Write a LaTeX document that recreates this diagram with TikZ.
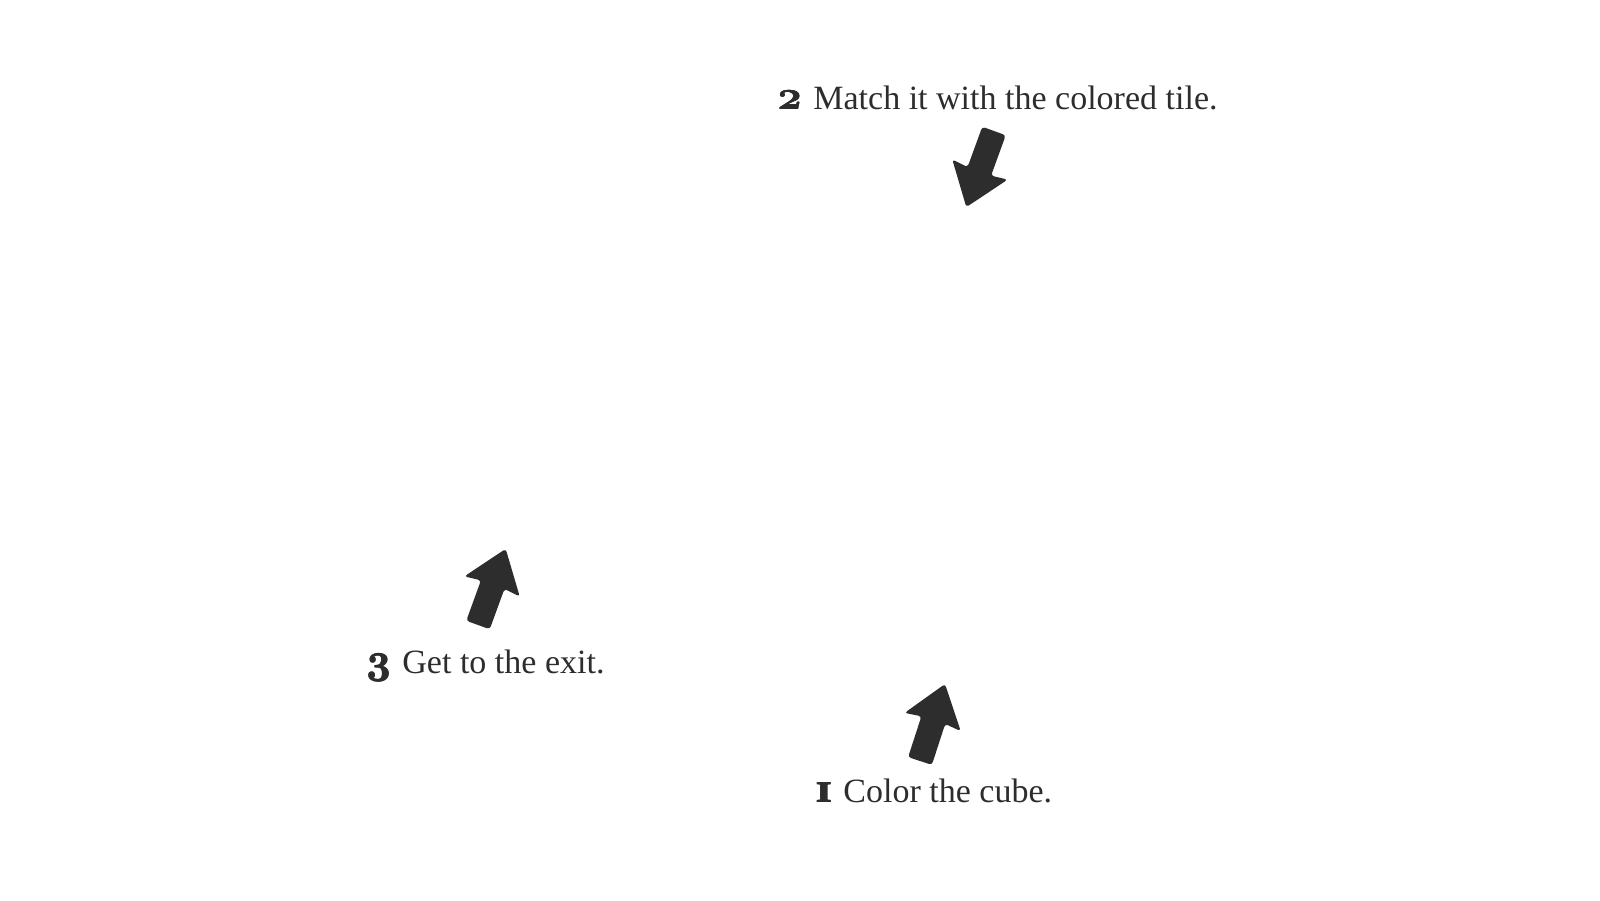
\documentclass[tikz,border=0pt]{standalone}
\usepackage{fontspec}
\setmainfont{Liberation Serif}
\definecolor{ink}{RGB}{45,45,45}
\newcommand{\heavyglyph}[1]{\makebox[0pt][l]{#1}\makebox[0pt][l]{\raisebox{0.35pt}{#1}}\makebox[0pt][l]{\kern0.35pt\raisebox{0.35pt}{#1}}\kern0.35pt#1}
\newcommand{\stepnum}[1]{{\fontsize{20}{22}\usefont{OML}{cmm}{b}{it}\heavyglyph{#1}}}
\newcommand{\stepone}{{\fontsize{20}{22}\selectfont\bfseries\heavyglyph{\scalebox{1.05}[0.72]{I}}}}
\tikzset{
  label/.style={anchor=base west, inner sep=0pt, text=ink, font=\fontsize{17}{20}\selectfont},
  numlabel/.style={anchor=base west, inner sep=0pt, text=ink},
  bigarrow/.pic={\fill[ink, rounded corners=1.5pt] (-12.5,0) -- (12.5,0) -- (12.5,43) -- (29.5,41) -- (0,81) -- (-29.5,41) -- (-12.5,43) -- cycle;}
}
\begin{document}
\begin{tikzpicture}[x=0.5pt,y=0.5pt]
\useasboundingbox (0,0) rectangle (1600,900);
% step 2
\node[numlabel] (n2) at (777,790) {\stepnum{2}};
\node[label] (t2) at (813,790) {Match it with the colored tile.};
\pic[rotate=160] (a2) at (994,769) {bigarrow};
% step 3
\node[numlabel] (n3) at (366,227) {\stepnum{3}};
\node[label] (t3) at (402,227) {Get to the exit.};
\pic[rotate=-20] (a3) at (478,275) {bigarrow};
% step 1
\node[numlabel] (n1) at (815,98) {\stepone};
\node[label] (t1) at (843,98) {Color the cube.};
\pic[rotate=-18] (a1) at (920,139) {bigarrow};
\end{tikzpicture}
\end{document}
